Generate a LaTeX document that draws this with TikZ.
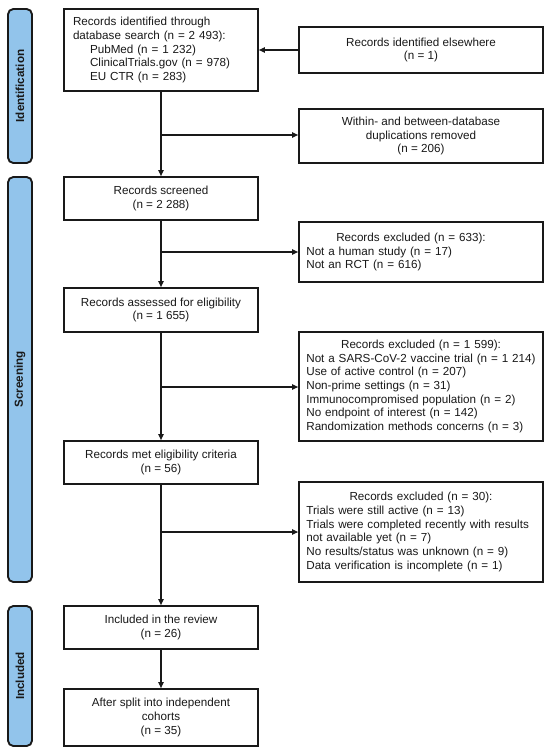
\documentclass[tikz,border=0pt]{standalone}
\usepackage{fontspec}
\setmainfont{Liberation Sans}
\usetikzlibrary{arrows.meta}
\definecolor{sidefill}{RGB}{146,196,235}
\definecolor{ink}{RGB}{25,25,25}
\begin{document}
\begin{tikzpicture}[x=0.75pt,y=-0.75pt,
  box/.style={draw=ink,line width=1.3pt,fill=white,inner sep=0pt,
    font=\fontsize{8.75}{10.25}\selectfont,text=ink},
  lbox/.style={box,minimum width=145.5pt},
  rbox/.style={box,minimum width=183pt},
  side/.style={draw=ink,line width=1.4pt,fill=sidefill,rounded corners=4pt,
    minimum width=18pt,inner sep=0pt,rotate=90,
    font=\bfseries\fontsize{8.75}{10}\selectfont,text=ink},
  conn/.style={draw=ink,line width=0.8pt},
  arr/.style={conn,-{Triangle[length=4.5pt,width=4pt]}}]
\useasboundingbox (0,0) rectangle (550,753);
% sidebars
\node[side,minimum width=115.5pt,minimum height=18pt] (sid) at (20,86) {Identification};
\node[side,minimum width=303.75pt,minimum height=18pt] (sscr) at (20,379.5) {Screening};
\node[side,minimum width=105pt,minimum height=18pt] (sinc) at (20,676) {Included};
% left column
\node[lbox,minimum height=61.5pt,text width=132pt,align=left] (b1) at (161,50)
 {Records identified through\\database search (n = 2 493):\\
  \hspace*{12.75pt}PubMed (n = 1 232)\\
  \hspace*{12.75pt}ClinicalTrials.gov (n = 978)\\
  \hspace*{12.75pt}EU CTR (n = 283)};
\node[lbox,minimum height=32.25pt,align=center] (b2) at (161,198.5)
 {Records screened\\(n = 2 288)};
\node[lbox,minimum height=33pt,align=center] (b3) at (161,310)
 {Records assessed for eligibility\\(n = 1 655)};
\node[lbox,minimum height=32.25pt,align=center] (b4) at (161,462.5)
 {Records met eligibility criteria\\(n = 56)};
\node[lbox,minimum height=32.25pt,align=center] (b5) at (161,627.5)
 {Included in the review\\(n = 26)};
\node[lbox,minimum height=42.75pt,align=center] (b6) at (161,717.5)
 {After split into independent\\cohorts\\(n = 35)};
% right column
\node[rbox,minimum height=34.5pt,align=center] (r1) at (421,50)
 {Records identified elsewhere\\(n = 1)};
\node[rbox,minimum height=40.5pt,align=center] (r2) at (421,136)
 {Within- and between-database\\duplications removed\\(n = 206)};
\node[rbox,minimum height=45pt,text width=172pt,align=left] (r3) at (421,252)
 {\makebox[\linewidth]{Records excluded (n = 633):\hspace*{15pt}}\\
  Not a human study (n = 17)\\
  Not an RCT (n = 616)};
\node[rbox,minimum height=81.75pt,text width=172pt,align=left] (r4) at (421,386.5)
 {\makebox[\linewidth]{Records excluded (n = 1 599):}\\
  Not a SARS-CoV-2 vaccine trial (n = 1 214)\\
  Use of active control (n = 207)\\
  Non-prime settings (n = 31)\\
  Immunocompromised population (n = 2)\\
  No endpoint of interest (n = 142)\\
  Randomization methods concerns (n = 3)};
\node[rbox,minimum height=75pt,text width=172pt,align=left] (r5) at (421,532)
 {\makebox[\linewidth]{Records excluded (n = 30):}\\
  Trials were still active (n = 13)\\
  \makebox[\linewidth][s]{Trials were completed recently with results}\\
  not available yet (n = 7)\\
  No results/status was unknown (n = 9)\\
  Data verification is incomplete (n = 1)};
% connectors
\draw[arr] (r1.west) -- (b1.east);
\draw[arr] (b1.south) -- (b2.north);
\draw[arr] (b2.south) -- (b3.north);
\draw[arr] (b3.south) -- (b4.north);
\draw[arr] (b4.south) -- (b5.north);
\draw[arr] (b5.south) -- (b6.north);
\coordinate (j1) at (161,135);
\coordinate (j2) at (161,252);
\coordinate (j3) at (161,387);
\coordinate (j4) at (161,532);
\draw[arr] (j1) -- (j1 -| r2.west);
\draw[arr] (j2) -- (j2 -| r3.west);
\draw[arr] (j3) -- (j3 -| r4.west);
\draw[arr] (j4) -- (j4 -| r5.west);
\end{tikzpicture}
\end{document}
